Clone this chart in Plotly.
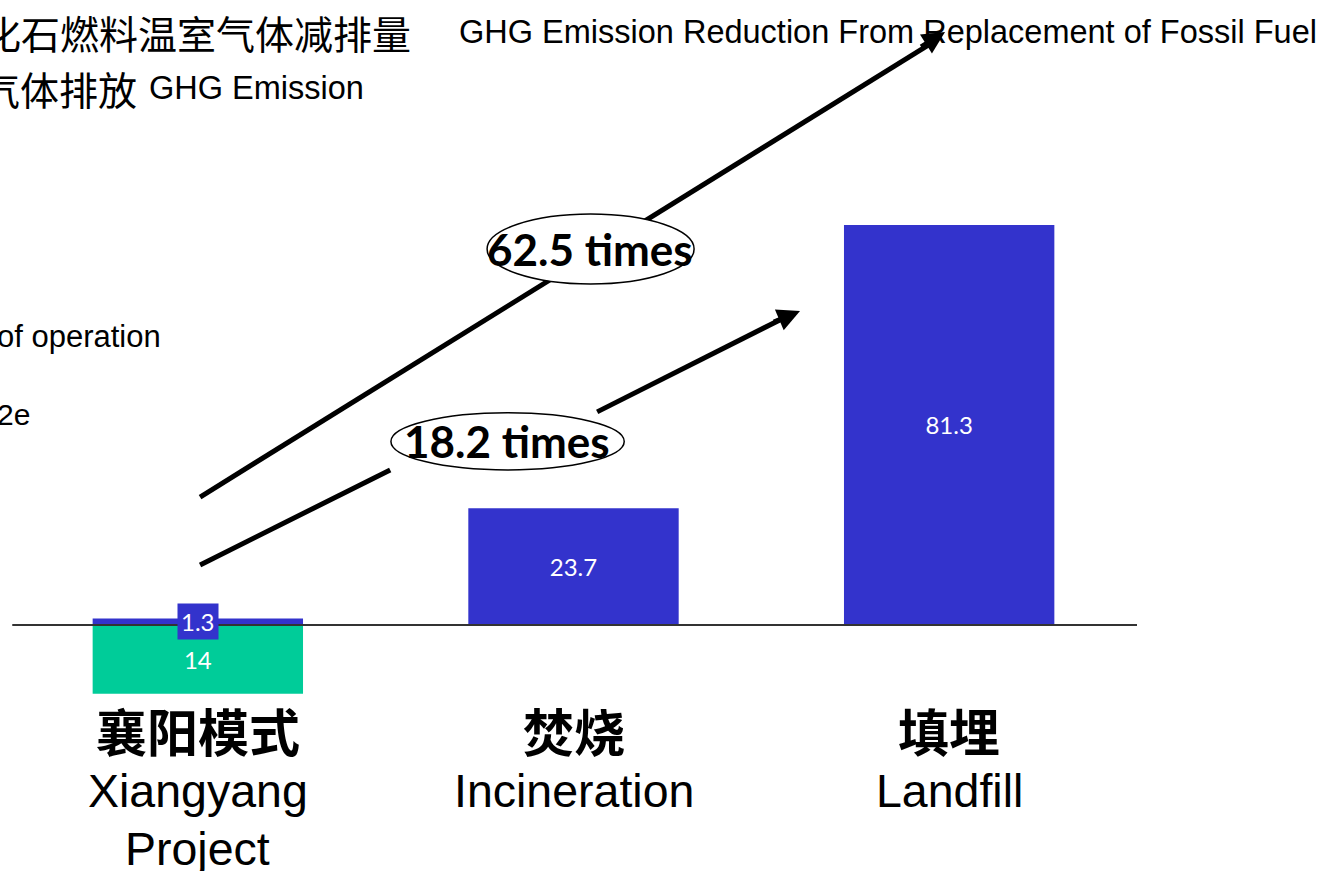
import plotly.graph_objects as go

# Categories and values (tCO2e)
categories = ["襄阳模式", "焚烧", "填埋"]
category_en = [["Xiangyang", "Project"], ["Incineration"], ["Landfill"]]
emission = [1.3, 23.7, 81.3]      # GHG emission
reduction = [14, 0, 0]            # GHG emission reduction from replacement of fossil fuel
ratio_text = ["18.2 times", "62.5 times"]

BLUE = "#3333CC"
GREEN = "#00CC99"
LATIN = "Liberation Sans, Arial, sans-serif"
CJK = "Noto Sans CJK SC, sans-serif"
LABEL = "Lato, Carlito, Calibri, sans-serif"

W, H = 1325, 871
ML, MR, MT, MB = 10, 188, 0, 0
X_RANGE = [-0.5, 2.5]
Y_RANGE = [-50, 127]


def paper_x(p):
    return (p - ML) / (W - ML - MR)


def paper_y(p):
    return 1 - (p - MT) / (H - MT - MB)


x = list(range(len(categories)))
BAR_W = 0.56

fig = go.Figure()
fig.add_bar(
    x=x, y=emission, width=BAR_W,
    marker=dict(color=BLUE, line_width=0),
    text=[f"{v:g}" for v in emission],
    textposition=["none", "inside", "inside"],
    insidetextanchor="middle", textangle=0,
    textfont=dict(family=LABEL, size=24, color="white"),
    hoverinfo="skip",
)
fig.add_bar(
    x=x, y=[-v for v in reduction], width=BAR_W,
    marker=dict(color=GREEN, line_width=0),
    text=[f"{v:g}" if v else "" for v in reduction],
    textposition="inside",
    insidetextanchor="middle", textangle=0,
    textfont=dict(family=LABEL, size=24, color="white"),
    hoverinfo="skip",
)

shapes = []
annotations = []

# baseline
shapes.append(dict(type="line", xref="paper", yref="y", x0=0.002, x1=1.0, y0=0, y1=0,
                   line=dict(color="#333333", width=2)))

# arrow shafts (data coords); lower arrow is broken around its ellipse
arrow_segments = [
    (0.006, 12.2, 0.512, 31.5),
    (1.063, 43.3, 1.565, 62.6),
    (0.006, 26.0, 1.954, 118.3),
]
for x0, y0, x1, y1 in arrow_segments:
    shapes.append(dict(type="line", xref="x", yref="y", x0=x0, y0=y0, x1=x1, y1=y1,
                       line=dict(color="black", width=5)))

# ellipses holding the ratio labels
ellipses = [(0.514, 31.5, 1.135, 43.1), (0.770, 69.3, 1.321, 83.5)]
for x0, y0, x1, y1 in ellipses:
    shapes.append(dict(type="circle", xref="x", yref="y", x0=x0, y0=y0, x1=x1, y1=y1,
                       fillcolor="white", line=dict(color="black", width=1.5)))

# arrow heads
heads = [((1.603, 63.8), (-27.6, 11.7)), ((1.989, 120.5), (-25.4, 15.9))]

# legend-style headings at the top left
annotations += [
    dict(xref="paper", yref="paper", x=paper_x(413), y=paper_y(32), xanchor="right",
         yanchor="middle", text="化石燃料温室气体减排量", font=dict(family=CJK, size=39, color="black")),
    dict(xref="paper", yref="paper", x=paper_x(457), y=paper_y(32), xanchor="left",
         yanchor="middle", text="GHG Emission Reduction From Replacement of Fossil Fuel",
         font=dict(family=LATIN, size=32.5, color="black")),
    dict(xref="paper", yref="paper", x=paper_x(139), y=paper_y(88), xanchor="right",
         yanchor="middle", text="温室气体排放", font=dict(family=CJK, size=39, color="black")),
    dict(xref="paper", yref="paper", x=paper_x(147), y=paper_y(88), xanchor="left",
         yanchor="middle", text="GHG Emission", font=dict(family=LATIN, size=32.5, color="black")),
    dict(xref="paper", yref="paper", x=paper_x(163), y=paper_y(336), xanchor="right",
         yanchor="middle", text="of operation", font=dict(family=LATIN, size=31, color="black")),
    dict(xref="paper", yref="paper", x=paper_x(32), y=paper_y(415), xanchor="right",
         yanchor="middle", text="2e", font=dict(family=LATIN, size=30, color="black")),
]

# small emission label sitting on the thin bar
annotations.append(dict(x=0, y=emission[0] / 2, xref="x", yref="y", text=f"{emission[0]:g}",
                        showarrow=False, bgcolor=BLUE, borderpad=3,
                        font=dict(family=LABEL, size=24, color="white")))

# ratio labels
ratio_pos = [(0.824, 37.4), (1.044, 76.4)]
for (tx, ty), t in zip(ratio_pos, ratio_text):
    annotations.append(dict(x=tx, y=ty, xref="x", yref="y", text=f"<b>{t}</b>", showarrow=False,
                            font=dict(family=LABEL, size=44, color="black")))

for (tx, ty), (ax, ay) in heads:
    annotations.append(dict(x=tx, y=ty, xref="x", yref="y", ax=ax, ay=ay, text="",
                            showarrow=True, arrowhead=2, arrowsize=0.9, arrowwidth=5,
                            arrowcolor="black"))

# category labels under the bars
for i, (cn, en_lines) in enumerate(zip(categories, category_en)):
    annotations.append(dict(x=i, y=-21.4, xref="x", yref="y", text=f"<b>{cn}</b>",
                            showarrow=False, yanchor="middle",
                            font=dict(family=CJK, size=51, color="black")))
    for k, line in enumerate(en_lines):
        annotations.append(dict(x=i, y=-33.7 - k * 11.8, xref="x", yref="y", text=line,
                                showarrow=False, yanchor="middle",
                                font=dict(family=LATIN, size=46.5, color="black")))

for a in annotations:
    a.setdefault("showarrow", False)

fig.update_layout(
    width=W, height=H, autosize=False,
    margin=dict(l=ML, r=MR, t=MT, b=MB),
    barmode="relative", showlegend=False,
    paper_bgcolor="white", plot_bgcolor="white",
    shapes=shapes, annotations=annotations,
)
fig.update_xaxes(range=X_RANGE, visible=False)
fig.update_yaxes(range=Y_RANGE, visible=False)

fig.write_html("out.html")
